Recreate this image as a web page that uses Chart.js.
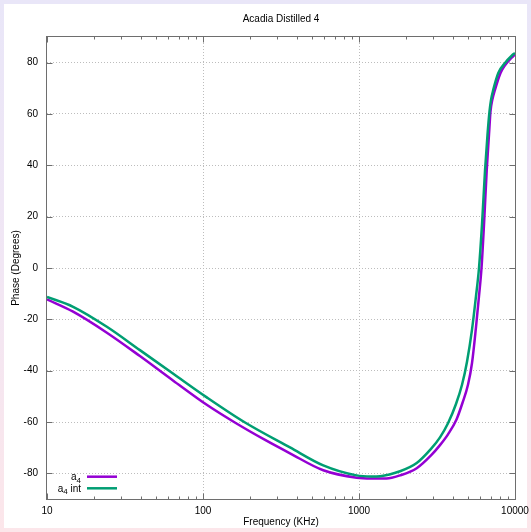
<!DOCTYPE html>
<html><head><meta charset="utf-8">
<script src="https://cdn.jsdelivr.net/npm/chart.js@4"></script>
<style>
html,body{margin:0;padding:0;width:531px;height:532px;overflow:hidden;}
body{background:linear-gradient(180deg,#e9e6f8 0%,#f1e6f4 50%,#fce6ea 100%);position:relative;}
#inner{position:absolute;left:4px;top:4px;width:523px;height:524px;background:#fff;}
canvas{position:absolute;left:0;top:0;}
</style></head><body>
<div id="inner"></div>
<canvas id="c" width="531" height="532"></canvas>
<script>
const chartTitle = 'Acadia Distilled 4';
const xAxisTitle = 'Frequency (KHz)';
const yAxisTitle = 'Phase (Degrees)';

const seriesNames = ['a\u2084', 'a\u2084 int'];
const seriesColors = ['#9400d3', '#009e73'];

const freqA4 = [10, 14.7, 24.2, 39.4, 64.5, 105.7, 160, 250, 361, 590, 966, 1200, 1500, 1832, 2344, 2894, 3305, 3720, 4217, 4609, 4996, 5302, 5623, 5878, 6100, 6329, 6587, 6813, 6966, 7154, 7446, 8075, 8629, 9524, 10000];
const phaseA4 = [-12.2, -17.0, -25.2, -34.3, -43.9, -53.3, -60.2, -67.0, -72.2, -78.8, -81.7, -82.0, -82.0, -80.8, -78.0, -73.0, -69.0, -64.8, -59.0, -52.5, -45.5, -37.0, -23.0, -11.0, 0, 17, 38, 52, 61, 65.5, 69.5, 76.0, 79.0, 82.0, 83.2];

const freqA4int = [10, 14.7, 24.2, 39.4, 64.5, 105.7, 186, 361, 590, 966, 1200, 1365, 1832, 2344, 2894, 3305, 3720, 4186, 4575, 4924, 5302, 5623, 5878, 6145, 6424, 6665, 6864, 7019, 7261, 7815, 8629, 9524, 10000];
const phaseA4int = [-11.3, -15.1, -22.9, -32.0, -41.2, -50.4, -60.2, -69.9, -76.9, -80.8, -81.2, -81.1, -79.2, -76.0, -70.5, -66.0, -60.5, -53.0, -45.5, -36.5, -24.0, -11.0, 0, 17, 38, 52, 61, 65.5, 69.5, 76.0, 79.9, 82.7, 83.8];

const xTickValues = [10, 100, 1000, 10000];
const xMinorTicks = [20,30,40,50,60,70,80,90,200,300,400,500,600,700,800,900,2000,3000,4000,5000,6000,7000,8000,9000];
const yTickValues = [-80, -60, -40, -20, 0, 20, 40, 60, 80];

const FONT = "'Liberation Sans', Arial, sans-serif";

function pts(xs, ys){ return xs.map((x,i)=>({x:x, y:ys[i]})); }

// draw a label, rendering the subscript digit smaller and lowered; right-aligned at xr
function drawLabel(ctx, label, xr, yy){
  const parts = [];
  for (const ch of label){
    if (ch === '\u2084') parts.push({t:'4', sub:true});
    else parts.push({t:ch, sub:false});
  }
  const big = '10px ' + FONT, small = '8px ' + FONT;
  let w = 0;
  parts.forEach(p=>{ ctx.font = p.sub ? small : big; p.w = ctx.measureText(p.t).width; w += p.w; });
  let x = xr - w;
  ctx.textAlign = 'left';
  ctx.textBaseline = 'alphabetic';
  parts.forEach(p=>{
    ctx.font = p.sub ? small : big;
    ctx.fillText(p.t, x, p.sub ? yy + 6 : yy + 3.5);
    x += p.w;
  });
}

const framePlugin = {
  id:'frame',
  afterDatasetsDraw(chart){
    const {ctx, chartArea:a, scales:{x, y}} = chart;
    ctx.save();
    ctx.strokeStyle = '#6e6e6e';
    ctx.lineWidth = 1;
    const L = Math.round(a.left)-0.5, R = Math.round(a.right)+0.5, T = Math.round(a.top)-0.5, B = Math.round(a.bottom)+0.5;
    ctx.strokeRect(L, T, R-L, B-T);
    ctx.beginPath();
    yTickValues.forEach(v=>{
      const py = Math.round(y.getPixelForValue(v))+0.5;
      ctx.moveTo(L, py); ctx.lineTo(L+6, py);
      ctx.moveTo(R, py); ctx.lineTo(R-6, py);
    });
    xTickValues.forEach(v=>{
      const px = Math.round(x.getPixelForValue(v))+0.5;
      ctx.moveTo(px, B); ctx.lineTo(px, B-6);
      ctx.moveTo(px, T); ctx.lineTo(px, T+6);
    });
    xMinorTicks.forEach(v=>{
      const px = Math.round(x.getPixelForValue(v))+0.5;
      ctx.moveTo(px, B); ctx.lineTo(px, B-3);
      ctx.moveTo(px, T); ctx.lineTo(px, T+3);
    });
    ctx.stroke();
    // legend
    ctx.fillStyle = '#000';
    const rows = [a.bottom-22.3, a.bottom-10.7];
    chart.data.datasets.forEach((ds, i)=>{
      const yy = rows[i];
      drawLabel(ctx, ds.label, a.left+34, yy);
      ctx.beginPath();
      ctx.strokeStyle = ds.borderColor;
      ctx.lineWidth = 2.5;
      ctx.moveTo(a.left+40, yy); ctx.lineTo(a.left+70, yy);
      ctx.stroke();
    });
    ctx.restore();
  }
};

new Chart(document.getElementById('c'), {
  type:'line',
  data:{
    datasets:[
      {label:seriesNames[0], data:pts(freqA4, phaseA4), borderColor:seriesColors[0], borderWidth:2.5, pointRadius:0, fill:false, cubicInterpolationMode:'monotone', order:2},
      {label:seriesNames[1], data:pts(freqA4int, phaseA4int), borderColor:seriesColors[1], borderWidth:2.5, pointRadius:0, fill:false, cubicInterpolationMode:'monotone', order:1}
    ]
  },
  options:{
    responsive:false, animation:false, devicePixelRatio:1,
    layout:{padding:{left:0, right:16, top:0, bottom:0}},
    plugins:{
      legend:{display:false},
      tooltip:{enabled:false},
      title:{display:true, text:chartTitle, fullSize:false, color:'#000', font:{family:FONT, size:10, weight:'normal'}, padding:{top:13, bottom:12}}
    },
    scales:{
      x:{
        type:'logarithmic', min:10, max:10000,
        afterBuildTicks:(s)=>{ s.ticks = xTickValues.map(v=>({value:v, major:true})); },
        afterFit:(s)=>{ s.height = 33; s.paddingLeft = 0; s.paddingRight = 0; },
        ticks:{color:'#000', font:{family:FONT, size:10}, padding:6, maxRotation:0, autoSkip:false, callback:(v)=>String(v)},
        grid:{drawTicks:false, color:(c)=> (c.tick && (c.tick.value===10 || c.tick.value===10000)) ? 'rgba(0,0,0,0)' : '#bdbdbd', lineWidth:1},
        border:{display:false, dash:[1,2]},
        title:{display:true, text:xAxisTitle, color:'#000', font:{family:FONT, size:10}, padding:{top:0, bottom:4}}
      },
      y:{
        type:'linear', min:-90, max:90,
        afterBuildTicks:(s)=>{ s.ticks = yTickValues.map(v=>({value:v})); },
        afterFit:(s)=>{ s.width = 47; s.paddingTop = 0; s.paddingBottom = 0; },
        ticks:{color:'#000', font:{family:FONT, size:10}, padding:9, callback:(v)=>String(v)},
        grid:{drawTicks:false, color:'#bdbdbd', lineWidth:1},
        border:{display:false, dash:[1,2]},
        title:{display:true, text:yAxisTitle, color:'#000', font:{family:FONT, size:10}, padding:{top:10, bottom:0}}
      }
    }
  },
  plugins:[framePlugin]
});
</script>
</body></html>
